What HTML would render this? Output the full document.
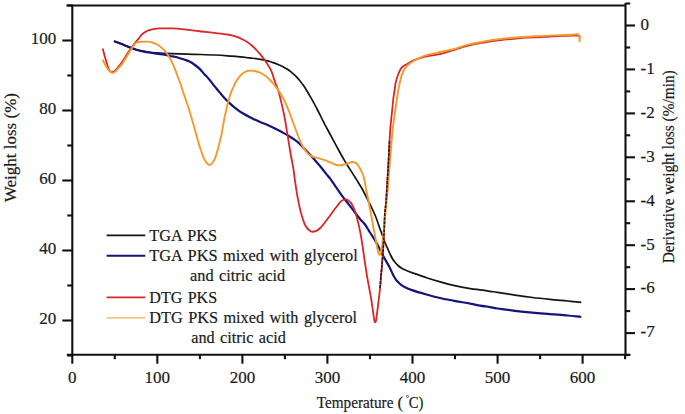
<!DOCTYPE html>
<html><head><meta charset="utf-8"><style>
html,body{margin:0;padding:0;background:#fff;}
svg{display:block;}
text{font-family:"Liberation Serif", serif;font-size:17px;fill:#1a1a1a;stroke:#1a1a1a;stroke-width:0.2px;}
</style></head><body>
<svg width="685" height="414" viewBox="0 0 685 414">
<line x1="72.3" y1="4.5" x2="72.3" y2="355.7" stroke="#111" stroke-width="2.1"/>
<line x1="625.5" y1="3" x2="625.5" y2="355.7" stroke="#111" stroke-width="2.1"/>
<line x1="66.5" y1="5.5" x2="625.5" y2="5.5" stroke="#111" stroke-width="2.1"/>
<line x1="66.8" y1="354.7" x2="630.3" y2="354.7" stroke="#111" stroke-width="2.1"/>
<line x1="72.3" y1="354.7" x2="72.3" y2="363.7" stroke="#111" stroke-width="2.1"/>
<text x="72.3" y="383.2" text-anchor="middle">0</text>
<line x1="114.8" y1="354.7" x2="114.8" y2="359.2" stroke="#111" stroke-width="2.1"/>
<line x1="157.3" y1="354.7" x2="157.3" y2="363.7" stroke="#111" stroke-width="2.1"/>
<text x="157.3" y="383.2" text-anchor="middle">100</text>
<line x1="199.9" y1="354.7" x2="199.9" y2="359.2" stroke="#111" stroke-width="2.1"/>
<line x1="242.4" y1="354.7" x2="242.4" y2="363.7" stroke="#111" stroke-width="2.1"/>
<text x="242.4" y="383.2" text-anchor="middle">200</text>
<line x1="284.9" y1="354.7" x2="284.9" y2="359.2" stroke="#111" stroke-width="2.1"/>
<line x1="327.4" y1="354.7" x2="327.4" y2="363.7" stroke="#111" stroke-width="2.1"/>
<text x="327.4" y="383.2" text-anchor="middle">300</text>
<line x1="370.0" y1="354.7" x2="370.0" y2="359.2" stroke="#111" stroke-width="2.1"/>
<line x1="412.5" y1="354.7" x2="412.5" y2="363.7" stroke="#111" stroke-width="2.1"/>
<text x="412.5" y="383.2" text-anchor="middle">400</text>
<line x1="455.0" y1="354.7" x2="455.0" y2="359.2" stroke="#111" stroke-width="2.1"/>
<line x1="497.6" y1="354.7" x2="497.6" y2="363.7" stroke="#111" stroke-width="2.1"/>
<text x="497.6" y="383.2" text-anchor="middle">500</text>
<line x1="540.1" y1="354.7" x2="540.1" y2="359.2" stroke="#111" stroke-width="2.1"/>
<line x1="582.6" y1="354.7" x2="582.6" y2="363.7" stroke="#111" stroke-width="2.1"/>
<text x="582.6" y="383.2" text-anchor="middle">600</text>
<line x1="625.1" y1="354.7" x2="625.1" y2="359.2" stroke="#111" stroke-width="2.1"/>
<line x1="67.3" y1="355.5" x2="72.3" y2="355.5" stroke="#111" stroke-width="2.1"/>
<line x1="62.3" y1="320.5" x2="72.3" y2="320.5" stroke="#111" stroke-width="2.1"/>
<text x="56.2" y="324.2" text-anchor="end" font-size="16.5">20</text>
<line x1="67.3" y1="285.5" x2="72.3" y2="285.5" stroke="#111" stroke-width="2.1"/>
<line x1="62.3" y1="250.5" x2="72.3" y2="250.5" stroke="#111" stroke-width="2.1"/>
<text x="56.2" y="254.2" text-anchor="end" font-size="16.5">40</text>
<line x1="67.3" y1="215.5" x2="72.3" y2="215.5" stroke="#111" stroke-width="2.1"/>
<line x1="62.3" y1="180.5" x2="72.3" y2="180.5" stroke="#111" stroke-width="2.1"/>
<text x="56.2" y="184.2" text-anchor="end" font-size="16.5">60</text>
<line x1="67.3" y1="145.5" x2="72.3" y2="145.5" stroke="#111" stroke-width="2.1"/>
<line x1="62.3" y1="110.5" x2="72.3" y2="110.5" stroke="#111" stroke-width="2.1"/>
<text x="56.2" y="114.2" text-anchor="end" font-size="16.5">80</text>
<line x1="67.3" y1="75.5" x2="72.3" y2="75.5" stroke="#111" stroke-width="2.1"/>
<line x1="62.3" y1="40.5" x2="72.3" y2="40.5" stroke="#111" stroke-width="2.1"/>
<text x="56.2" y="44.2" text-anchor="end" font-size="16.5">100</text>
<line x1="67.3" y1="5.5" x2="72.3" y2="5.5" stroke="#111" stroke-width="2.1"/>
<line x1="625.5" y1="3.5" x2="630.2" y2="3.5" stroke="#111" stroke-width="2.1"/>
<line x1="625.5" y1="25.5" x2="635.0" y2="25.5" stroke="#111" stroke-width="2.1"/>
<text x="640.6" y="29.8">0</text>
<line x1="625.5" y1="47.5" x2="630.2" y2="47.5" stroke="#111" stroke-width="2.1"/>
<line x1="625.5" y1="69.4" x2="635.0" y2="69.4" stroke="#111" stroke-width="2.1"/>
<text x="640.6" y="73.7">-1</text>
<line x1="625.5" y1="91.4" x2="630.2" y2="91.4" stroke="#111" stroke-width="2.1"/>
<line x1="625.5" y1="113.4" x2="635.0" y2="113.4" stroke="#111" stroke-width="2.1"/>
<text x="640.6" y="117.7">-2</text>
<line x1="625.5" y1="135.3" x2="630.2" y2="135.3" stroke="#111" stroke-width="2.1"/>
<line x1="625.5" y1="157.3" x2="635.0" y2="157.3" stroke="#111" stroke-width="2.1"/>
<text x="640.6" y="161.6">-3</text>
<line x1="625.5" y1="179.3" x2="630.2" y2="179.3" stroke="#111" stroke-width="2.1"/>
<line x1="625.5" y1="201.3" x2="635.0" y2="201.3" stroke="#111" stroke-width="2.1"/>
<text x="640.6" y="205.6">-4</text>
<line x1="625.5" y1="223.2" x2="630.2" y2="223.2" stroke="#111" stroke-width="2.1"/>
<line x1="625.5" y1="245.2" x2="635.0" y2="245.2" stroke="#111" stroke-width="2.1"/>
<text x="640.6" y="249.5">-5</text>
<line x1="625.5" y1="267.2" x2="630.2" y2="267.2" stroke="#111" stroke-width="2.1"/>
<line x1="625.5" y1="289.1" x2="635.0" y2="289.1" stroke="#111" stroke-width="2.1"/>
<text x="640.6" y="293.4">-6</text>
<line x1="625.5" y1="311.1" x2="630.2" y2="311.1" stroke="#111" stroke-width="2.1"/>
<line x1="625.5" y1="333.1" x2="635.0" y2="333.1" stroke="#111" stroke-width="2.1"/>
<text x="640.6" y="337.4">-7</text>
<line x1="625.5" y1="355.0" x2="630.2" y2="355.0" stroke="#111" stroke-width="2.1"/>
<path d="M114.0 41.2 C115.0 41.6 118.0 42.7 120.0 43.5 C122.0 44.3 124.0 45.0 126.0 45.8 C128.0 46.6 129.7 47.4 132.0 48.2 C134.3 49.0 137.0 49.9 140.0 50.6 C143.0 51.3 145.9 52.0 150.0 52.4 C154.1 52.8 159.6 53.0 164.6 53.3 C169.6 53.5 175.1 53.7 180.0 53.9 C184.9 54.1 187.9 54.1 193.8 54.3 C199.8 54.5 209.4 54.7 215.7 55.0 C222.0 55.3 227.8 55.9 231.8 56.2 C235.9 56.5 237.0 56.5 240.0 56.8 C243.0 57.1 247.0 57.5 250.0 57.9 C253.0 58.3 255.3 58.5 258.0 59.0 C260.7 59.5 264.0 60.1 266.3 60.6 C268.6 61.1 270.1 61.6 272.0 62.2 C273.9 62.9 276.2 63.7 278.0 64.5 C279.8 65.3 281.3 65.9 283.0 66.8 C284.7 67.7 286.7 68.8 288.2 69.8 C289.7 70.8 290.8 71.8 292.0 72.8 C293.2 73.8 294.3 74.7 295.5 75.8 C296.7 76.9 297.8 78.1 299.0 79.6 C300.2 81.1 301.6 82.8 302.8 84.6 C304.1 86.4 305.3 88.2 306.5 90.2 C307.7 92.2 308.9 94.2 310.1 96.3 C311.3 98.4 312.7 100.8 313.8 102.8 C314.9 104.8 315.8 106.6 316.8 108.5 C317.8 110.4 318.7 112.2 319.6 114.0 C320.5 115.8 321.4 117.7 322.3 119.5 C323.2 121.3 324.1 123.0 325.0 124.8 C325.9 126.5 326.9 128.3 327.8 130.0 C328.7 131.7 329.6 133.4 330.5 135.0 C331.4 136.6 332.2 138.2 333.1 139.8 C334.0 141.4 334.9 143.1 335.8 144.8 C336.7 146.5 337.6 148.2 338.6 150.0 C339.6 151.8 340.6 153.7 341.6 155.5 C342.6 157.3 343.7 159.2 344.7 160.9 C345.7 162.6 346.7 164.2 347.7 165.8 C348.7 167.4 349.7 168.9 350.7 170.4 C351.7 171.9 352.7 173.5 353.7 175.1 C354.7 176.7 355.7 178.2 356.7 179.9 C357.7 181.6 358.8 183.3 359.8 185.0 C360.8 186.7 361.7 187.9 362.8 190.0 C363.9 192.1 365.4 195.2 366.5 197.5 C367.6 199.8 368.6 201.5 369.6 203.5 C370.6 205.5 371.6 207.6 372.5 209.5 C373.4 211.4 374.2 213.1 375.0 215.0 C375.8 216.9 376.6 218.9 377.3 221.0 C378.1 223.1 378.8 225.5 379.5 227.5 C380.2 229.5 380.8 231.0 381.5 233.0 C382.2 235.0 383.1 237.5 383.8 239.5 C384.6 241.5 385.2 243.2 386.0 245.0 C386.8 246.8 387.8 248.8 388.5 250.5 C389.2 252.2 389.8 253.6 390.5 255.0 C391.2 256.4 391.8 257.5 392.5 258.7 C393.2 259.9 393.9 260.9 394.8 262.0 C395.7 263.1 396.9 264.5 398.0 265.5 C399.1 266.5 400.4 267.4 401.7 268.2 C403.0 269.0 404.3 269.6 406.0 270.3 C407.7 271.0 408.5 271.4 411.9 272.6 C415.3 273.8 421.6 276.1 426.5 277.7 C431.4 279.3 436.2 280.8 441.1 282.1 C446.0 283.5 450.8 284.7 455.7 285.8 C460.6 286.9 466.2 288.0 470.3 288.7 C474.4 289.4 476.7 289.4 480.0 289.8 C483.3 290.2 487.1 290.9 490.0 291.3 C492.9 291.7 493.3 291.8 497.5 292.4 C501.7 293.0 509.1 294.2 515.0 295.1 C520.9 296.0 526.8 296.8 532.6 297.5 C538.5 298.2 544.3 298.8 550.1 299.4 C555.9 300.0 562.4 300.5 567.6 301.0 C572.8 301.5 579.0 302.2 581.3 302.4" fill="none" stroke="#141414" stroke-width="1.7"/>
<path d="M113.9 41.1 C114.6 41.4 116.5 42.0 118.0 42.6 C119.5 43.2 121.6 44.0 123.1 44.6 C124.6 45.2 125.5 45.7 127.0 46.3 C128.5 46.9 130.3 47.5 131.9 48.1 C133.5 48.7 135.1 49.3 136.5 49.8 C137.9 50.3 139.2 50.5 140.6 50.9 C142.0 51.2 143.7 51.6 145.2 51.9 C146.7 52.2 147.8 52.2 149.4 52.5 C151.0 52.8 153.4 53.2 154.9 53.4 C156.4 53.6 156.6 53.7 158.2 53.9 C159.8 54.1 162.6 54.2 164.6 54.6 C166.6 55.0 168.3 55.6 170.0 56.0 C171.7 56.4 173.4 56.4 175.0 56.8 C176.6 57.2 178.2 57.7 179.8 58.2 C181.4 58.7 183.1 59.1 184.7 59.7 C186.3 60.3 187.9 60.8 189.5 61.6 C191.1 62.4 192.7 63.4 194.3 64.5 C195.9 65.6 197.6 66.9 199.2 68.4 C200.8 69.9 202.4 71.9 204.0 73.7 C205.6 75.5 207.5 77.4 208.8 79.0 C210.2 80.6 211.1 81.8 212.1 83.1 C213.1 84.4 214.1 85.7 215.1 86.9 C216.1 88.1 217.1 89.3 218.1 90.5 C219.1 91.7 220.2 93.0 221.2 94.2 C222.2 95.4 223.0 96.5 224.2 97.8 C225.4 99.1 226.8 100.5 228.4 102.0 C230.0 103.5 231.7 105.1 233.8 106.8 C235.9 108.5 238.4 110.5 241.1 112.3 C243.8 114.0 247.8 116.1 250.0 117.3 C252.2 118.5 253.1 118.9 254.6 119.6 C256.1 120.3 257.4 120.9 259.0 121.6 C260.6 122.3 262.3 122.9 264.0 123.6 C265.7 124.3 267.2 124.8 269.2 125.7 C271.2 126.6 273.6 127.8 276.0 129.0 C278.4 130.2 281.5 131.8 283.8 133.1 C286.1 134.4 288.1 135.6 290.0 136.8 C291.9 138.0 293.8 139.2 295.5 140.4 C297.2 141.6 298.6 142.8 300.0 144.2 C301.4 145.5 302.8 147.0 304.2 148.5 C305.6 150.0 307.1 151.6 308.6 153.2 C310.1 154.8 311.5 156.4 313.0 158.0 C314.5 159.6 315.9 161.3 317.4 163.0 C318.9 164.7 320.4 166.4 321.8 168.2 C323.2 170.0 324.6 171.8 326.0 173.6 C327.4 175.4 329.2 177.3 330.5 179.1 C331.8 180.9 332.9 182.5 334.0 184.2 C335.1 185.9 336.0 187.1 337.4 189.1 C338.8 191.1 339.9 193.0 342.1 195.9 C344.3 198.8 347.5 202.8 350.5 206.7 C353.5 210.5 357.6 216.0 360.0 219.0 C362.4 222.0 363.3 222.2 365.0 224.5 C366.7 226.8 368.1 229.5 370.0 232.5 C371.9 235.5 374.6 239.4 376.4 242.6 C378.2 245.8 379.6 248.9 380.9 251.5 C382.2 254.1 382.9 255.4 384.3 258.0 C385.7 260.6 388.0 264.4 389.3 266.8 C390.6 269.2 391.1 270.8 392.0 272.5 C392.9 274.2 393.6 275.8 394.4 277.2 C395.2 278.6 396.0 279.9 397.0 281.0 C398.0 282.1 398.9 283.1 400.2 284.1 C401.5 285.1 403.1 286.2 405.0 287.2 C406.9 288.2 408.3 288.9 411.9 290.1 C415.5 291.3 421.6 293.1 426.5 294.5 C431.4 295.9 436.2 297.1 441.1 298.2 C446.0 299.3 450.8 300.2 455.7 301.1 C460.6 302.0 466.2 302.9 470.3 303.7 C474.4 304.4 476.7 305.0 480.0 305.6 C483.3 306.2 487.1 306.6 490.0 307.1 C492.9 307.6 493.3 307.9 497.5 308.5 C501.7 309.1 509.1 310.1 515.0 310.8 C520.9 311.5 526.8 312.1 532.6 312.6 C538.5 313.2 544.3 313.6 550.1 314.1 C555.9 314.6 562.4 315.0 567.6 315.5 C572.8 316.0 579.0 316.8 581.3 317.0" fill="none" stroke="#14147a" stroke-width="2.2"/>
<path d="M102.7 48.5 C102.9 49.3 103.5 51.7 104.0 53.5 C104.5 55.3 105.1 57.4 105.6 59.2 C106.1 61.0 106.7 62.9 107.2 64.5 C107.7 66.1 108.0 67.5 108.5 68.6 C109.0 69.7 109.5 70.7 110.0 71.3 C110.5 71.9 110.9 72.1 111.4 72.2 C111.9 72.3 112.5 72.1 113.0 71.9 C113.5 71.7 113.7 71.7 114.3 71.2 C114.9 70.7 115.7 69.9 116.5 69.0 C117.3 68.1 118.0 67.5 119.2 65.9 C120.5 64.3 122.4 61.6 124.0 59.2 C125.6 56.8 127.2 53.8 128.8 51.4 C130.4 49.0 132.0 46.8 133.6 44.7 C135.2 42.6 137.1 40.6 138.5 38.9 C139.9 37.2 140.5 35.7 141.9 34.4 C143.3 33.1 145.3 31.9 147.0 31.0 C148.7 30.1 150.1 29.7 152.1 29.3 C154.1 28.9 156.7 28.6 158.8 28.4 C161.0 28.2 162.8 28.3 165.0 28.3 C167.2 28.3 169.5 28.3 172.0 28.4 C174.5 28.5 177.3 28.6 180.0 28.9 C182.7 29.1 184.5 29.5 188.1 29.9 C191.7 30.3 196.9 31.0 201.3 31.5 C205.7 32.0 210.0 32.4 214.4 32.9 C218.8 33.4 224.1 33.9 227.6 34.5 C231.1 35.1 232.8 35.5 235.4 36.4 C238.0 37.3 241.3 38.7 243.3 39.7 C245.3 40.7 246.2 41.3 247.5 42.2 C248.8 43.1 250.0 44.0 251.2 45.0 C252.4 46.0 253.5 47.0 254.6 48.1 C255.7 49.2 256.8 50.4 257.8 51.5 C258.8 52.6 259.6 53.6 260.5 54.6 C261.4 55.6 262.2 56.8 263.0 57.8 C263.8 58.8 264.5 59.8 265.2 60.8 C265.9 61.8 266.6 62.9 267.3 64.0 C268.0 65.1 268.7 66.2 269.4 67.4 C270.1 68.6 270.5 68.7 271.4 71.1 C272.3 73.5 273.8 78.2 275.0 81.7 C276.2 85.2 277.6 88.2 278.7 91.9 C279.8 95.6 280.6 99.5 281.6 103.6 C282.6 107.7 283.6 112.3 284.5 116.7 C285.4 121.1 286.0 125.5 286.7 129.9 C287.4 134.3 288.2 139.0 288.9 143.4 C289.6 147.8 290.4 152.4 291.1 156.5 C291.8 160.6 292.6 163.7 293.3 168.2 C294.0 172.7 294.6 178.4 295.4 183.5 C296.2 188.6 296.9 193.7 297.9 198.8 C298.9 203.9 300.0 209.5 301.3 214.0 C302.6 218.5 303.9 222.9 305.5 225.8 C307.1 228.7 308.9 230.3 310.6 231.2 C312.3 232.1 314.0 231.8 315.7 231.2 C317.4 230.6 318.7 229.5 320.7 227.5 C322.7 225.5 325.2 222.0 327.5 219.0 C329.8 216.0 332.2 212.5 334.3 209.7 C336.4 206.9 338.6 203.9 340.0 202.3 C341.4 200.7 341.9 200.5 343.0 200.0 C344.1 199.5 345.5 199.0 346.9 199.5 C348.2 200.0 349.9 201.5 351.1 203.1 C352.3 204.7 353.3 207.0 354.2 209.2 C355.1 211.4 355.8 213.6 356.6 216.4 C357.4 219.2 358.3 223.0 359.0 226.1 C359.7 229.2 360.1 231.2 360.8 235.0 C361.5 238.8 362.3 244.3 363.0 249.0 C363.7 253.7 364.3 258.5 365.0 263.0 C365.7 267.5 366.3 272.0 367.0 276.0 C367.7 280.0 368.3 283.2 369.0 287.0 C369.7 290.8 370.5 294.6 371.2 299.0 C371.9 303.4 372.8 310.0 373.3 313.5 C373.8 317.0 374.0 318.8 374.3 320.2 C374.6 321.6 374.9 322.2 375.2 322.2 C375.5 322.2 375.8 321.6 376.1 320.2 C376.4 318.8 376.6 317.0 377.0 313.5 C377.4 310.0 378.3 303.2 378.8 299.0 C379.3 294.8 379.7 291.8 380.1 288.0 C380.5 284.2 380.7 279.8 381.0 276.0 C381.3 272.2 381.7 269.0 382.0 265.0 C382.3 261.0 382.7 256.2 383.0 252.0 C383.3 247.8 383.4 244.2 383.6 240.0 C383.8 235.8 384.1 231.4 384.3 227.0 C384.5 222.6 384.6 218.0 384.9 213.5 C385.2 209.0 385.7 207.4 386.2 200.0 C386.7 192.6 387.5 179.0 388.1 169.0 C388.7 159.0 389.2 146.9 389.6 140.0 C390.0 133.1 390.1 131.5 390.4 127.6 C390.7 123.7 391.1 120.3 391.5 116.7 C391.9 113.1 392.3 109.0 392.6 105.9 C392.9 102.8 393.1 100.7 393.4 98.0 C393.7 95.3 394.2 92.5 394.6 90.0 C395.0 87.5 395.1 85.3 395.6 83.0 C396.1 80.7 396.7 78.5 397.5 76.2 C398.3 74.0 399.5 71.1 400.4 69.5 C401.3 67.9 402.0 67.3 403.0 66.5 C404.0 65.7 404.4 65.6 406.2 64.6 C407.9 63.6 410.4 61.6 413.5 60.3 C416.6 59.0 421.2 57.6 425.1 56.7 C429.0 55.8 432.6 55.6 436.7 54.7 C440.8 53.8 447.0 52.0 450.0 51.2 C453.0 50.4 451.4 50.8 454.6 49.8 C457.8 48.8 464.3 46.6 469.2 45.4 C474.1 44.2 478.9 43.4 483.8 42.5 C488.7 41.6 493.5 40.9 498.4 40.3 C503.3 39.7 508.1 39.2 513.0 38.8 C517.9 38.4 522.3 38.0 527.6 37.7 C532.9 37.4 539.3 37.2 544.6 36.9 C549.9 36.6 554.3 36.3 559.2 36.1 C564.1 35.9 570.7 35.6 573.8 35.5 C576.9 35.4 576.9 35.6 577.8 35.7 C578.7 35.8 579.1 35.5 579.4 36.0 C579.7 36.5 579.6 38.1 579.6 38.5" fill="none" stroke="#d8262b" stroke-width="1.8"/>
<path d="M102.7 59.6 C102.9 60.1 103.5 61.5 104.0 62.5 C104.5 63.5 105.0 64.5 105.6 65.5 C106.2 66.5 106.8 67.6 107.5 68.5 C108.2 69.4 108.8 70.2 109.5 70.9 C110.2 71.6 111.0 72.2 111.5 72.5 C112.0 72.8 112.1 73.0 112.6 72.9 C113.1 72.9 113.7 72.6 114.3 72.2 C114.9 71.8 115.5 71.5 116.3 70.7 C117.1 69.9 118.2 68.4 119.2 67.3 C120.2 66.2 120.7 65.8 122.0 64.0 C123.3 62.2 125.3 58.9 126.9 56.3 C128.5 53.7 130.4 50.5 131.7 48.5 C133.0 46.5 133.7 45.5 134.5 44.5 C135.3 43.5 135.7 43.1 136.5 42.7 C137.3 42.3 138.8 42.1 139.6 42.0 C140.4 41.9 140.2 41.9 141.4 41.8 C142.6 41.7 145.5 41.6 146.9 41.6 C148.3 41.6 148.8 41.5 150.0 41.8 C151.2 42.1 153.0 42.8 154.2 43.2 C155.4 43.7 156.1 43.8 157.3 44.5 C158.5 45.2 160.3 46.7 161.5 47.7 C162.7 48.7 163.6 49.6 164.6 50.7 C165.6 51.8 166.3 52.8 167.4 54.3 C168.5 55.8 169.9 58.1 170.9 60.0 C171.9 61.9 172.7 63.5 173.5 65.5 C174.3 67.5 175.2 69.6 176.0 71.8 C176.8 74.0 177.7 76.2 178.5 78.5 C179.3 80.8 180.3 83.2 181.0 85.3 C181.7 87.4 182.2 89.2 182.8 91.0 C183.4 92.8 183.9 94.5 184.4 96.0 C184.9 97.5 185.4 98.5 185.9 100.0 C186.4 101.5 187.0 103.3 187.6 105.0 C188.2 106.7 188.7 108.3 189.3 110.1 C189.9 111.9 190.4 114.0 191.0 116.0 C191.6 118.0 192.1 119.9 192.7 121.9 C193.3 123.9 193.8 125.8 194.4 127.8 C195.0 129.8 195.4 131.8 196.0 133.8 C196.6 135.8 197.1 137.7 197.7 139.7 C198.3 141.7 198.8 143.8 199.4 145.6 C200.0 147.4 200.5 149.1 201.1 150.8 C201.7 152.5 202.3 154.4 202.8 155.7 C203.3 157.0 203.8 158.0 204.2 158.8 C204.6 159.7 204.9 160.2 205.3 160.8 C205.7 161.5 206.2 162.1 206.6 162.7 C207.0 163.2 207.3 163.7 207.8 164.1 C208.3 164.5 209.0 164.9 209.5 165.0 C210.0 165.1 210.5 164.8 210.9 164.5 C211.3 164.2 211.6 164.0 212.1 163.3 C212.6 162.7 213.2 161.6 213.8 160.6 C214.4 159.6 214.9 158.9 215.4 157.4 C215.9 155.9 216.5 153.8 217.1 151.8 C217.7 149.8 218.3 147.5 218.8 145.6 C219.3 143.7 219.6 142.3 220.0 140.5 C220.4 138.7 221.0 137.0 221.5 134.6 C222.0 132.2 222.5 128.8 223.0 126.0 C223.5 123.2 223.9 120.3 224.5 117.5 C225.1 114.7 225.9 111.6 226.5 109.0 C227.1 106.4 227.4 104.6 228.1 102.1 C228.8 99.6 229.7 96.4 230.5 94.0 C231.3 91.6 232.3 89.6 233.2 87.5 C234.1 85.4 235.1 83.2 236.1 81.5 C237.1 79.8 238.1 78.5 239.0 77.3 C239.9 76.1 240.5 75.4 241.5 74.5 C242.5 73.6 243.8 72.6 244.9 72.0 C246.0 71.4 246.9 71.0 248.0 70.8 C249.1 70.6 250.5 70.6 251.7 70.6 C252.9 70.6 253.8 70.7 255.0 71.0 C256.2 71.3 257.8 71.7 259.0 72.2 C260.2 72.7 261.3 73.3 262.5 74.0 C263.7 74.7 265.1 75.6 266.3 76.6 C267.6 77.6 268.8 78.8 270.0 80.0 C271.2 81.2 272.5 82.6 273.6 83.9 C274.7 85.2 275.5 86.5 276.5 87.8 C277.5 89.1 278.2 90.0 279.4 91.9 C280.6 93.8 282.7 97.2 283.8 99.2 C284.9 101.2 285.3 102.3 286.0 104.0 C286.7 105.7 287.5 107.6 288.2 109.4 C288.9 111.2 289.7 113.0 290.4 115.0 C291.1 117.0 291.8 118.8 292.6 121.1 C293.5 123.4 294.6 126.7 295.5 129.0 C296.4 131.3 297.0 133.1 297.7 135.0 C298.4 136.9 299.2 138.7 299.9 140.4 C300.6 142.1 301.3 143.6 302.0 145.0 C302.7 146.4 303.4 147.5 304.2 148.8 C305.0 150.1 306.1 151.6 307.0 152.6 C307.9 153.6 308.7 154.4 309.7 155.1 C310.7 155.8 311.6 156.3 313.0 156.8 C314.4 157.3 316.2 157.6 318.1 158.1 C320.0 158.6 322.1 159.2 324.1 159.9 C326.1 160.6 328.6 161.6 330.2 162.3 C331.8 163.0 332.8 163.5 334.0 164.0 C335.2 164.5 336.4 165.1 337.4 165.3 C338.4 165.5 339.0 165.3 340.0 165.2 C341.0 165.1 342.0 165.0 343.4 164.7 C344.8 164.4 346.9 163.6 348.3 163.2 C349.7 162.8 350.9 162.1 351.9 162.0 C352.9 161.9 353.7 162.2 354.5 162.4 C355.3 162.7 356.0 162.9 356.7 163.5 C357.4 164.1 357.9 165.1 358.5 166.0 C359.1 166.9 359.7 167.8 360.3 169.0 C360.9 170.2 361.7 171.6 362.3 173.0 C362.9 174.4 363.3 175.7 363.8 177.5 C364.3 179.3 364.8 181.9 365.2 184.0 C365.6 186.1 365.7 187.3 366.2 190.0 C366.7 192.7 367.5 196.0 368.3 200.0 C369.1 204.0 370.1 209.2 371.0 214.0 C371.9 218.8 372.8 224.2 373.7 229.0 C374.6 233.8 375.7 239.3 376.4 243.0 C377.1 246.7 377.4 249.1 377.8 251.0 C378.2 252.9 378.6 254.0 379.0 254.5 C379.4 255.0 380.0 254.9 380.4 254.2 C380.8 253.4 380.9 251.8 381.2 250.0 C381.5 248.2 382.0 247.0 382.4 243.5 C382.8 240.0 383.3 233.8 383.8 229.0 C384.3 224.2 384.8 219.3 385.3 214.5 C385.8 209.7 386.2 204.9 386.7 200.0 C387.2 195.1 387.7 190.2 388.1 185.0 C388.5 179.8 388.9 174.0 389.3 169.0 C389.7 164.0 390.1 159.8 390.5 155.0 C390.9 150.2 391.3 144.6 391.7 140.0 C392.1 135.4 392.4 131.5 392.9 127.6 C393.3 123.7 393.9 120.3 394.4 116.7 C394.9 113.1 395.4 109.5 395.9 105.9 C396.4 102.3 397.0 98.2 397.5 95.0 C398.0 91.8 398.5 88.9 399.0 86.4 C399.5 83.9 400.0 81.9 400.5 80.0 C401.0 78.1 401.3 76.5 401.9 74.8 C402.5 73.1 403.3 71.3 404.0 70.0 C404.7 68.7 405.4 67.8 406.2 66.8 C407.0 65.8 407.8 65.2 409.0 64.2 C410.2 63.2 410.8 62.4 413.5 61.0 C416.2 59.6 421.2 57.1 425.1 55.7 C429.0 54.3 432.6 53.8 436.7 52.8 C440.8 51.8 447.0 50.6 450.0 49.9 C453.0 49.2 451.4 49.7 454.6 48.8 C457.8 47.9 464.3 45.6 469.2 44.4 C474.1 43.2 478.9 42.4 483.8 41.5 C488.7 40.6 493.5 39.9 498.4 39.3 C503.3 38.7 508.1 38.2 513.0 37.8 C517.9 37.4 522.3 37.0 527.6 36.7 C532.9 36.4 539.3 36.1 544.6 35.9 C549.9 35.6 554.3 35.4 559.2 35.2 C564.1 35.0 570.8 34.7 573.8 34.5 C576.8 34.3 576.6 34.0 577.5 34.2 C578.4 34.4 578.9 34.9 579.2 35.5 C579.6 36.1 579.5 36.9 579.6 38.0 C579.7 39.1 579.6 41.3 579.6 42.0" fill="none" stroke="#f39a2c" stroke-width="1.9"/>
<path d="M380.1 288.0 C380.2 286.0 380.7 279.8 381.0 276.0 C381.3 272.2 381.7 269.0 382.0 265.0 C382.3 261.0 382.7 256.2 383.0 252.0 C383.3 247.8 383.4 244.2 383.6 240.0 C383.8 235.8 384.1 231.4 384.3 227.0 C384.5 222.6 384.6 218.0 384.9 213.5 C385.2 209.0 385.7 207.4 386.2 200.0 C386.7 192.6 387.5 179.0 388.1 169.0 C388.7 159.0 389.4 144.8 389.6 140.0" fill="none" stroke="#2a1a1a" stroke-width="1.6" stroke-dasharray="3 1"/>
<line x1="106.6" y1="235.4" x2="145.3" y2="235.4" stroke="#141414" stroke-width="1.8"/>
<text x="149.3" y="240.8" font-size="16.4" word-spacing="1.5" textLength="67.8" lengthAdjust="spacingAndGlyphs">TGA PKS</text>
<line x1="106.6" y1="255.8" x2="145.3" y2="255.8" stroke="#14147a" stroke-width="2.0"/>
<text x="149.3" y="261.2" font-size="16.4" word-spacing="1.5" textLength="208.4" lengthAdjust="spacingAndGlyphs">TGA PKS mixed with glycerol</text>
<text x="190.0" y="281.4" font-size="16.4" word-spacing="1.5" textLength="95.2" lengthAdjust="spacingAndGlyphs">and citric acid</text>
<line x1="106.6" y1="297.4" x2="145.3" y2="297.4" stroke="#d8262b" stroke-width="1.8"/>
<text x="149.3" y="302.8" font-size="16.4" word-spacing="1.5" textLength="67.8" lengthAdjust="spacingAndGlyphs">DTG PKS</text>
<line x1="106.6" y1="317.8" x2="145.3" y2="317.8" stroke="#f7c48a" stroke-width="1.8"/>
<text x="149.3" y="323.2" font-size="16.4" word-spacing="1.5" textLength="207.8" lengthAdjust="spacingAndGlyphs">DTG PKS mixed with glycerol</text>
<text x="191.2" y="343.4" font-size="16.4" word-spacing="1.5" textLength="94.6" lengthAdjust="spacingAndGlyphs">and citric acid</text>
<text y="408" font-size="14.6"><tspan x="316.8" textLength="76.6" lengthAdjust="spacingAndGlyphs">Temperature</tspan><tspan x="397.5">(</tspan><tspan x="408.7" textLength="14.6" lengthAdjust="spacingAndGlyphs">C)</tspan></text>
<circle cx="407.5" cy="396.4" r="1.05" fill="none" stroke="#333" stroke-width="0.75"/>
<text transform="translate(16.2,202.2) rotate(-90)" font-size="15.4" textLength="109.2" lengthAdjust="spacingAndGlyphs">Weight loss (%)</text>
<text transform="translate(673.6,263.3) rotate(-90)" font-size="15" textLength="193" lengthAdjust="spacingAndGlyphs">Derivative weight loss (%/min)</text>
</svg>
</body></html>
